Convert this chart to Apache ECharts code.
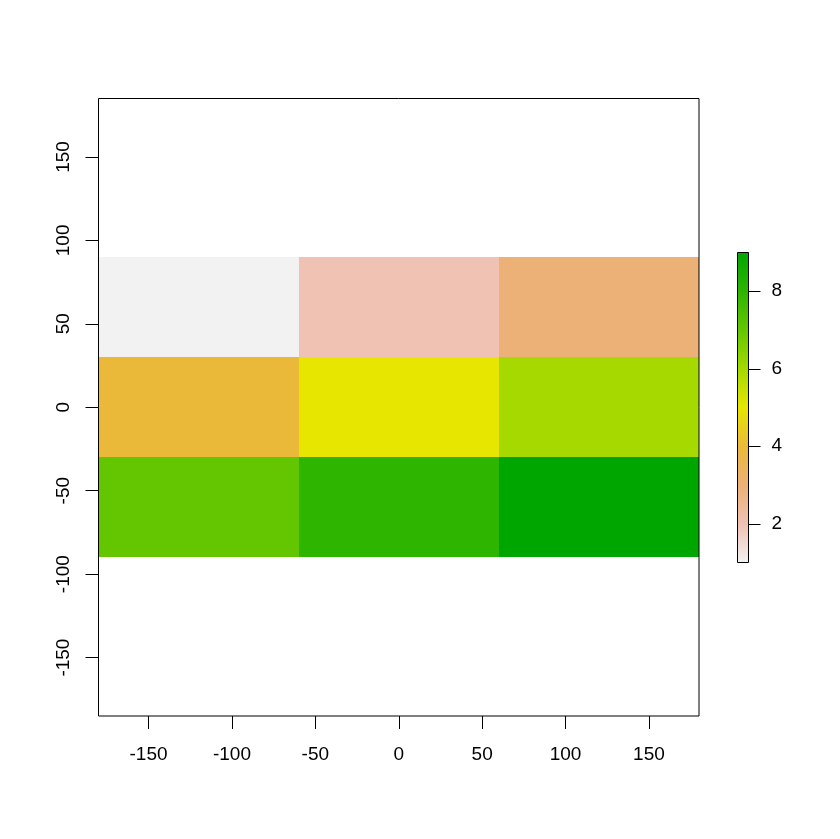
<!DOCTYPE html>
<html>
<head>
<meta charset="utf-8">
<style>
  html, body { margin: 0; padding: 0; background: #fff; }
  #chart-container { width: 840px; height: 839px; }
</style>
<script src="https://cdn.jsdelivr.net/npm/echarts@6/dist/echarts.min.js"></script>
</head>
<body>
<div id="chart-container"></div>
<script>
// raster cells, top row first
var xEdges = [-180, -60, 60, 180];
var yEdges = [90, 30, -30, -90];
var cellValues = [
  [1, 2, 3],
  [4, 5, 6],
  [7, 8, 9]
];

// colour at value 1, 2 ... 9
var colorStops = ['#f2f2f2', '#efc2b3', '#ecb176', '#ebb93a', '#e6e600', '#a5d900', '#63c600', '#2db500', '#00a600'];

var xLimits = [-180, 180];
var yLimits = [-185, 185];
var xTicks = [-150, -100, -50, 0, 50, 100, 150];
var yTicks = [-150, -100, -50, 0, 50, 100, 150];
var barLimits = [1, 9];
var barTicks = [2, 4, 6, 8];

var dom = document.getElementById('chart-container');
var myChart = echarts.init(dom, null, { renderer: 'canvas' });

var cells = [];
cellValues.forEach(function (row, r) {
  row.forEach(function (v, c) {
    cells.push([xEdges[c], xEdges[c + 1], yEdges[r], yEdges[r + 1], v]);
  });
});

var labelFont = { fontFamily: 'Liberation Sans', fontSize: 19, color: '#000' };
var lineBlack = { color: '#000', width: 1 };
var noLine = { show: false, onZero: false };

// rectangle between two corners in data space
function boxShape(api, x0, x1, y0, y1) {
  var a = api.coord([x0, y0]);
  var b = api.coord([x1, y1]);
  return { x: a[0], y: a[1], width: b[0] - a[0], height: b[1] - a[1] };
}

// same, snapped to whole pixels so neighbouring cells leave no seam
function cellShape(api, x0, x1, y0, y1) {
  var a = api.coord([x0, y0]);
  var b = api.coord([x1, y1]);
  var left = Math.round(a[0]), top = Math.round(a[1]);
  return { x: left, y: top, width: Math.round(b[0]) - left, height: Math.round(b[1]) - top };
}

var barGradient = colorStops.map(function (c, i) {
  return { offset: 1 - i / (colorStops.length - 1), color: c };
}).reverse();

var option = {
  backgroundColor: '#fff',
  animation: false,
  grid: [
    { left: 98.5, top: 98.5, width: 600.5, height: 617.5 },
    { left: 737.5, top: 252.5, width: 11, height: 310 }
  ],
  xAxis: [
    {
      type: 'value', gridIndex: 0, min: xLimits[0], max: xLimits[1],
      splitLine: { show: false },
      axisLine: noLine,
      axisTick: { show: true, length: 13, lineStyle: lineBlack, customValues: xTicks },
      axisLabel: Object.assign({ margin: 29, hideOverlap: false, customValues: xTicks }, labelFont)
    },
    { type: 'value', gridIndex: 1, min: 0, max: 1, show: false, axisLine: noLine }
  ],
  yAxis: [
    {
      type: 'value', gridIndex: 0, min: yLimits[0], max: yLimits[1],
      splitLine: { show: false },
      axisLine: noLine,
      axisTick: { show: true, length: 13, lineStyle: lineBlack, customValues: yTicks },
      axisLabel: Object.assign({ margin: 25, rotate: 90, hideOverlap: false, customValues: yTicks }, labelFont)
    },
    {
      type: 'value', gridIndex: 1, position: 'right', min: barLimits[0], max: barLimits[1],
      splitLine: { show: false },
      axisLine: noLine,
      axisTick: { show: true, length: 12, lineStyle: lineBlack, customValues: barTicks },
      axisLabel: Object.assign({ margin: 23, padding: [3, 0, 0, 0], hideOverlap: false, customValues: barTicks }, labelFont)
    }
  ],
  visualMap: {
    show: false, seriesIndex: 0, dimension: 4,
    min: barLimits[0], max: barLimits[1],
    inRange: { color: colorStops }
  },
  series: [
    {
      type: 'custom', xAxisIndex: 0, yAxisIndex: 0, silent: true,
      encode: { x: [0, 1], y: [2, 3] },
      data: cells,
      renderItem: function (params, api) {
        return {
          type: 'rect',
          shape: cellShape(api, api.value(0), api.value(1), api.value(2), api.value(3)),
          style: { fill: api.visual('color') }
        };
      }
    },
    {
      // plot frame, goes over the cells
      type: 'custom', xAxisIndex: 0, yAxisIndex: 0, silent: true, z: 5, clip: false,
      encode: { x: [0, 1], y: [2, 3] },
      data: [[xLimits[0], xLimits[1], yLimits[0], yLimits[1]]],
      renderItem: function (params, api) {
        return {
          type: 'rect',
          shape: boxShape(api, api.value(0), api.value(1), api.value(2), api.value(3)),
          style: { fill: null, stroke: '#000', lineWidth: 1 }
        };
      }
    },
    {
      // colour bar
      type: 'custom', xAxisIndex: 1, yAxisIndex: 1, silent: true, z: 5, clip: false,
      encode: { x: [0, 1], y: [2, 3] },
      data: [[0, 1, barLimits[0], barLimits[1]]],
      renderItem: function (params, api) {
        return {
          type: 'rect',
          shape: boxShape(api, api.value(0), api.value(1), api.value(2), api.value(3)),
          style: {
            fill: new echarts.graphic.LinearGradient(0, 0, 0, 1, barGradient),
            stroke: '#000', lineWidth: 1
          }
        };
      }
    }
  ]
};

myChart.setOption(option);
window.addEventListener('resize', myChart.resize);
</script>
</body>
</html>
